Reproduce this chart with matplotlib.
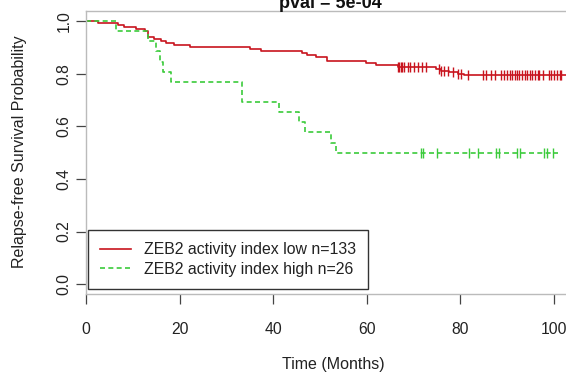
import numpy as np
import matplotlib
matplotlib.use("Agg")
import matplotlib.pyplot as plt
from matplotlib.lines import Line2D

plt.rcParams['font.family'] = ['Liberation Sans', 'DejaVu Sans']

# ---- data ----
low_label = "ZEB2 activity index low n=133"
high_label = "ZEB2 activity index high n=26"
title_text = "pval = 5e-04"

low_times = [0, 2.5, 6.8, 8.2, 10.7, 12.5, 13.2, 14.6, 16.1, 17.1, 18.9, 22.3,
             35.1, 37.4, 46.2, 47.3, 49.1, 51.6, 59.8, 61.9, 66.6, 74.8, 75.9,
             77.6, 79.4, 80.8]
low_surv = [1.0, 0.992, 0.985, 0.977, 0.970, 0.962, 0.940, 0.932, 0.925, 0.917,
            0.910, 0.902, 0.895, 0.888, 0.880, 0.872, 0.863, 0.850, 0.841,
            0.833, 0.826, 0.816, 0.811, 0.805, 0.800, 0.794]
low_end = 104.0
low_censor = [66.6, 66.9, 67.3, 67.6, 68.0, 68.7, 69.3, 70.1, 70.9, 71.8, 72.6,
              75.5, 75.9, 76.6, 77.3, 78.4, 79.4, 80.1, 81.6,
              84.8, 85.5, 86.6, 87.4, 88.7, 89.4, 90.0, 90.5, 91.1, 91.6, 92.1,
              92.6, 93.1, 93.7, 94.3, 94.8, 95.4, 95.9, 96.5, 96.9, 97.7, 98.9,
              99.4, 100.1, 100.7, 101.2, 101.6]

high_times = [0, 6.5, 13.3, 15.0, 15.8, 16.5, 18.2, 33.3, 41.2, 45.5, 46.9,
              52.3, 53.4]
high_surv = [1.0, 0.962, 0.923, 0.885, 0.846, 0.808, 0.769, 0.692, 0.654,
             0.615, 0.577, 0.538, 0.500]
high_end = 100.9
high_censor = [71.6, 72.1, 75.1, 81.9, 83.7, 87.5, 88.2, 92.1, 92.8, 97.8,
               98.5, 99.8]

x_ticks = [0, 20, 40, 60, 80, 100]
y_ticks = [0.0, 0.2, 0.4, 0.6, 0.8, 1.0]

RED = '#C8141E'
GREEN = '#3BCB3B'

W, H = 566, 374
fig = plt.figure(figsize=(W / 100, H / 100), dpi=100)
ax_left, ax_right, ax_top, ax_bottom = 86, 580, 10.5, 294
ax = fig.add_axes([ax_left / W, 1 - ax_bottom / H,
                   (ax_right - ax_left) / W, (ax_bottom - ax_top) / H])

px_per_unit = (554 - 86) / 100.0
ax.set_xlim(0, (ax_right - ax_left) / px_per_unit)
ax.set_ylim(-0.037, 1.040)


def draw_curve(times, surv, end, censor, color, ls):
    t = np.append(times, end)
    s = np.append(surv, surv[-1])
    ax.step(t, s, where='post', color=color, lw=1.2, linestyle=ls,
            solid_capstyle='butt')
    idx = np.searchsorted(np.asarray(times), np.asarray(censor), side='right') - 1
    cs = np.asarray(surv)[idx]
    ax.plot(censor, cs, linestyle='none', marker='|', markersize=7.5,
            markeredgewidth=1.0, color=color)


draw_curve(low_times, low_surv, low_end, low_censor, RED, '-')
draw_curve(high_times, high_surv, high_end, high_censor, GREEN, (0, (3.0, 2.0)))

for side in ['left', 'bottom', 'top', 'right']:
    ax.spines[side].set_color('#BBBBBB')
    ax.spines[side].set_linewidth(1.0)

ax.set_xticks(x_ticks)
ax.set_xticklabels([str(v) for v in x_ticks])
ax.set_yticks(y_ticks)
ax.set_yticklabels([f"{v:.1f}" for v in y_ticks])
ax.tick_params(axis='both', direction='out', length=7, width=0.9,
               color='#444444', labelcolor='#222222', labelsize=11.3)
ax.tick_params(axis='x', pad=13)
ax.tick_params(axis='y', pad=3.5)
for lab in ax.get_yticklabels():
    lab.set_rotation(90)
    lab.set_va('center')

fig.text(333 / W, 1 - 364 / H, "Time (Months)", ha='center', va='center',
         fontsize=11.5, color='#222222')
fig.text(20 / W, 1 - 152 / H, "Relapse-free Survival Probability",
         rotation=90, ha='center', va='center', fontsize=11.5, color='#222222')
fig.text(330 / W, 1 - 8.5 / H, title_text, ha='center', va='baseline',
         fontsize=13, fontweight='bold', color='#111111')

handles = [Line2D([], [], color=RED, lw=1.2),
           Line2D([], [], color=GREEN, lw=1.2, linestyle=(0, (3.0, 2.0)))]
leg = ax.legend(handles, [low_label, high_label], loc='lower left',
                bbox_to_anchor=(88 / W, 1 - 289 / H), bbox_transform=fig.transFigure,
                borderaxespad=0, fontsize=11.4, frameon=True, fancybox=False,
                edgecolor='black', handlelength=1.95, handletextpad=0.8,
                borderpad=0.78, labelspacing=0.28)
leg.get_frame().set_linewidth(1.0)
for t in leg.get_texts():
    t.set_color('#222222')

fig.savefig('out.png', dpi=100)
